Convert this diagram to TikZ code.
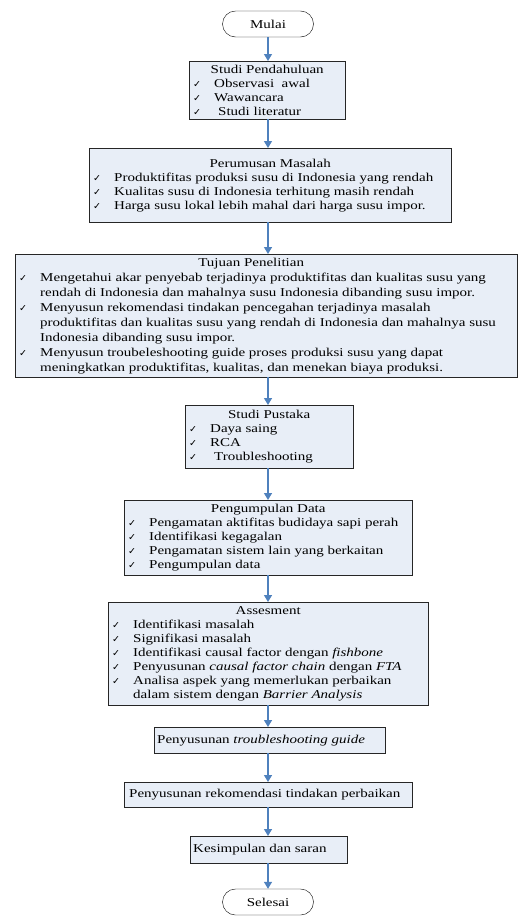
\documentclass[tikz,border=0pt]{standalone}
\usepackage{fontspec}
\setmainfont{Liberation Serif}[FakeStretch=1.25]
\newfontfamily\symfont{DejaVu Sans}
\usepackage{tikz}
\usetikzlibrary{arrows.meta}
\usetikzlibrary{shadows}

\definecolor{boxfill}{RGB}{232,238,247}
\definecolor{flowblue}{RGB}{79,129,189}

\newcommand{\ceklis}{\hbox to 21pt{\symfont\fontsize{9.5}{10}\selectfont ✓\hfil}}
\newcommand{\butir}[1]{\par\noindent\ceklis #1}
\newcommand{\lanjut}[1]{\par\noindent\hbox to 21pt{\hfil}#1}
\newcommand{\judul}[1]{{\centering #1\par}}
\newcommand{\isi}[2]{\parbox{#1}{\raggedright #2\par}}

\tikzset{
  procbox/.style={rectangle, draw=black!85, fill=boxfill, inner xsep=4pt, inner ysep=1pt,
    anchor=north west, font=\fontsize{12}{14}\selectfont,
    drop shadow={shadow xshift=1.2pt, shadow yshift=-1.2pt, fill=black!45, opacity=0.6}},
  terminal/.style={rectangle, rounded corners=13pt, draw=black, fill=white,
    minimum width=91pt, minimum height=26pt, font=\fontsize{12}{14}\selectfont},
  flow/.style={draw=flowblue, line width=1.4pt, -{Triangle[width=8pt,length=7pt]}}
}

\begin{document}
\begin{tikzpicture}[x=1pt, y=-1pt]
	\useasboundingbox (0,0) rectangle (518,916);
	\coordinate (sumbu) at (268,0);
	
	\node[terminal] (mulai) at (268,24) {Mulai};
	
	\node[procbox, minimum height=58pt] (pend) at (189,61)
	  {\isi{148pt}{\judul{Studi Pendahuluan}\butir{Observasi\ \ awal}\butir{Wawancara}\butir{\hspace{4pt}Studi literatur}}};
	
	\node[procbox, minimum height=74pt] (rumus) at (89,148)
	  {\isi{354pt}{\judul{Perumusan Masalah}
	   \butir{Produktifitas produksi susu di Indonesia yang rendah}
	   \butir{Kualitas susu di Indonesia terhitung masih rendah}
	   \butir{Harga susu lokal lebih mahal dari harga susu impor.}}};
	
	\node[procbox, minimum height=123pt, font=\fontsize{12}{15}\selectfont] (tujuan) at (15,254)
	  {\isi{494pt}{\judul{Tujuan Penelitian\hspace*{30pt}}
	   \butir{Mengetahui akar penyebab terjadinya produktifitas dan kualitas susu yang}
	   \lanjut{rendah di Indonesia dan mahalnya susu Indonesia dibanding susu impor.}
	   \butir{Menyusun rekomendasi tindakan pencegahan terjadinya masalah}
	   \lanjut{produktifitas dan kualitas susu yang rendah di Indonesia dan mahalnya susu}
	   \lanjut{Indonesia dibanding susu impor.}
	   \butir{Menyusun troubeleshooting guide proses produksi susu yang dapat}
	   \lanjut{meningkatkan produktifitas, kualitas, dan menekan biaya produksi.}}};
	
	\node[procbox, minimum height=63pt] (pustaka) at (185,405)
	  {\isi{160pt}{\judul{Studi Pustaka}\butir{Daya saing}\butir{RCA}\butir{\hspace{4pt}Troubleshooting}}};
	
	\node[procbox, minimum height=75pt] (kumpul) at (124,500)
	  {\isi{280pt}{\judul{Pengumpulan Data}
	   \butir{Pengamatan aktifitas budidaya sapi perah}
	   \butir{Identifikasi kegagalan}
	   \butir{Pengamatan sistem lain yang berkaitan}
	   \butir{Pengumpulan data}}};
	
	\node[procbox, minimum height=103pt] (asses) at (108,602)
	  {\isi{312pt}{\judul{Assesment}
	   \butir{Identifikasi masalah}
	   \butir{Signifikasi masalah}
	   \butir{Identifikasi causal factor dengan \textit{fishbone}}
	   \butir{Penyusunan \textit{causal factor chain} dengan \textit{FTA}}
	   \butir{Analisa aspek yang memerlukan perbaikan}
	   \lanjut{dalam sistem dengan \textit{Barrier Analysis}}}};
	
	\node[procbox, inner xsep=3pt, minimum height=26pt] (guide) at (154,727)
	  {\isi{225pt}{Penyusunan \textit{troubleshooting guide}}};
	
	\node[procbox, inner xsep=5pt, minimum height=25pt] (rekom) at (124,782)
	  {\isi{278pt}{Penyusunan rekomendasi tindakan perbaikan}};
	
	\node[procbox, inner xsep=3pt, minimum height=27pt] (simpul) at (190,836)
	  {\isi{151pt}{Kesimpulan dan saran}};
	
	\node[terminal] (selesai) at (268,902) {Selesai};
	
	% alur proses
	\draw[flow] (mulai.south -| sumbu) -- (pend.north -| sumbu);
	\draw[flow] (pend.south -| sumbu) -- (rumus.north -| sumbu);
	\draw[flow] (rumus.south -| sumbu) -- (tujuan.north -| sumbu);
	\draw[flow] (tujuan.south -| sumbu) -- (pustaka.north -| sumbu);
	\draw[flow] (pustaka.south -| sumbu) -- (kumpul.north -| sumbu);
	\draw[flow] (kumpul.south -| sumbu) -- (asses.north -| sumbu);
	\draw[flow] (asses.south -| sumbu) -- (guide.north -| sumbu);
	\draw[flow] (guide.south -| sumbu) -- (rekom.north -| sumbu);
	\draw[flow] (rekom.south -| sumbu) -- (simpul.north -| sumbu);
	\draw[flow] (simpul.south -| sumbu) -- (selesai.north -| sumbu);
\end{tikzpicture}
\end{document}
